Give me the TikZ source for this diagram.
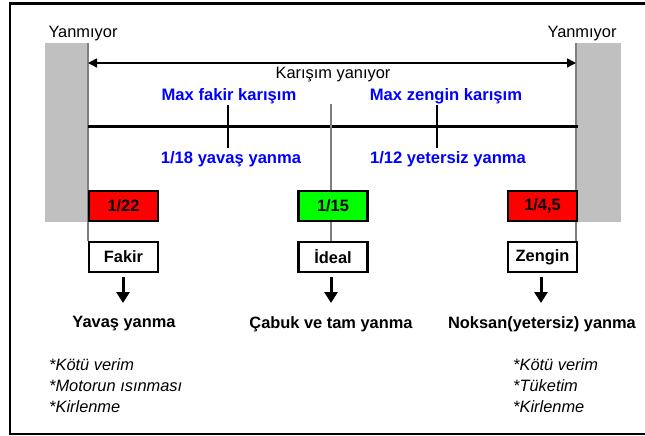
\documentclass[tikz,border=0pt]{standalone}
\usepackage{fontspec}
\setmainfont{Liberation Sans}
\usetikzlibrary{arrows.meta}
\definecolor{bargray}{HTML}{C0C0C0}
\definecolor{edgegray}{HTML}{7F7F7F}
\definecolor{lean}{HTML}{FF0000}
\definecolor{ideal}{HTML}{00FF00}
\definecolor{labelblue}{HTML}{0000FF}
\tikzset{
  plain/.style={font=\fontsize{16.4}{19}\selectfont, inner sep=0pt},
  bluelabel/.style={font=\fontsize{16.6}{19}\selectfont\bfseries, text=labelblue, inner sep=0pt},
  result/.style={font=\fontsize{16.4}{19}\selectfont\bfseries, inner sep=0pt},
  notes/.style={font=\fontsize{16.4}{21}\selectfont\itshape, inner sep=0pt, align=left, anchor=north west},
  ratiobox/.style={draw=black, line width=2.8pt, minimum width=69pt, minimum height=30pt,
    inner sep=0pt, font=\fontsize{16.4}{19}\selectfont\bfseries},
  typebox/.style={ratiobox, fill=white},
  downarrow/.style={line width=3pt, -{Triangle[length=11pt,width=13pt]}},
  tick/.style={line width=2pt},
}
\begin{document}
\begin{tikzpicture}[x=1pt,y=-1pt]
  \useasboundingbox (0,0) rectangle (645,436);
  % outer frame (right side runs past the page edge)
  \begin{scope}
    \clip (0,0) rectangle (645,436);
    \draw[line width=2.5pt] (10,3.5) rectangle (652,434);
  \end{scope}

  % non-burning zones on both sides
  \fill[bargray] (45,43) rectangle (88,222);
  \fill[bargray] (576,43) rectangle (621,222);
  \coordinate (lt) at (88,43);
  \coordinate (lb) at (88,241);
  \coordinate (rt) at (576,43);
  \coordinate (rb) at (576,241);
  \draw[edgegray, line width=1.2pt] (lt) -- (lb);
  \draw[edgegray, line width=1.2pt] (rt) -- (rb);

  \node[plain] (ynl) at (83,34) {Yanmıyor};
  \node[plain] (ynr) at (582,34) {Yanmıyor};

  % burning range
  \coordinate (al) at (88,63);
  \coordinate (ar) at (576,63);
  \draw[line width=1.6pt, {Triangle[length=9pt,width=9pt]}-{Triangle[length=9pt,width=9pt]}] (al) -- (ar);
  \node[plain] (kar) at (333,75) {Karışım yanıyor};

  % mixture scale
  \coordinate (sl) at (88,126);
  \coordinate (sr) at (578,126);
  \draw[line width=3pt] (sl) -- (sr);

  \node[bluelabel] (maxf) at (229,96) {Max fakir karışım};
  \node[bluelabel] (maxz) at (446,96) {Max zengin karışım};
  \node[bluelabel] (slow) at (231,159) {1/18 yavaş yanma};
  \node[bluelabel] (poor) at (448,159) {1/12 yetersiz yanma};
  \coordinate (tf1) at (228,105);
  \coordinate (tf2) at (228,148);
  \coordinate (tz1) at (437,105);
  \coordinate (tz2) at (437,148);
  \draw[tick] (tf1) -- (tf2);
  \draw[tick] (tz1) -- (tz2);

  % ratio boxes
  \node[ratiobox, fill=lean] (r22) at (123.5,206) {1/22};
  \node[ratiobox, fill=ideal] (r15) at (333,206) {1/15};
  \node[ratiobox, fill=lean] (r45) at (542.5,206) {1/4,5};

  % mixture type boxes
  \node[typebox] (fakir) at (123.5,257) {Fakir};
  \node[typebox] (idealb) at (333,257) {İdeal};
  \node[typebox] (zengin) at (542.5,257) {Zengin};

  % stoichiometric line
  \coordinate (ct) at (331,104);
  \draw[edgegray, line width=1.2pt] (ct) -- (r15.north -| ct);
  \draw[edgegray, line width=1.2pt] (r15.south -| ct) -- (idealb.north -| ct);

  % results
  \node[result] (yavas) at (124,324) {Yavaş yanma};
  \node[result] (cabuk) at (331,324) {Çabuk ve tam yanma};
  \node[result] (noksan) at (542,324) {Noksan(yetersiz) yanma};

  \coordinate (fa) at (123,277);
  \coordinate (ia) at (331,277);
  \coordinate (za) at (541,277);
  \draw[downarrow] (fa) -- (fa |- 0,303);
  \draw[downarrow] (ia) -- (ia |- 0,303);
  \draw[downarrow] (za) -- (za |- 0,303);

  \node[notes] (nl) at (49,358) {*Kötü verim\\*Motorun ısınması\\*Kirlenme};
  \node[notes] (nr) at (513,358) {*Kötü verim\\*Tüketim\\*Kirlenme};
\end{tikzpicture}
\end{document}
